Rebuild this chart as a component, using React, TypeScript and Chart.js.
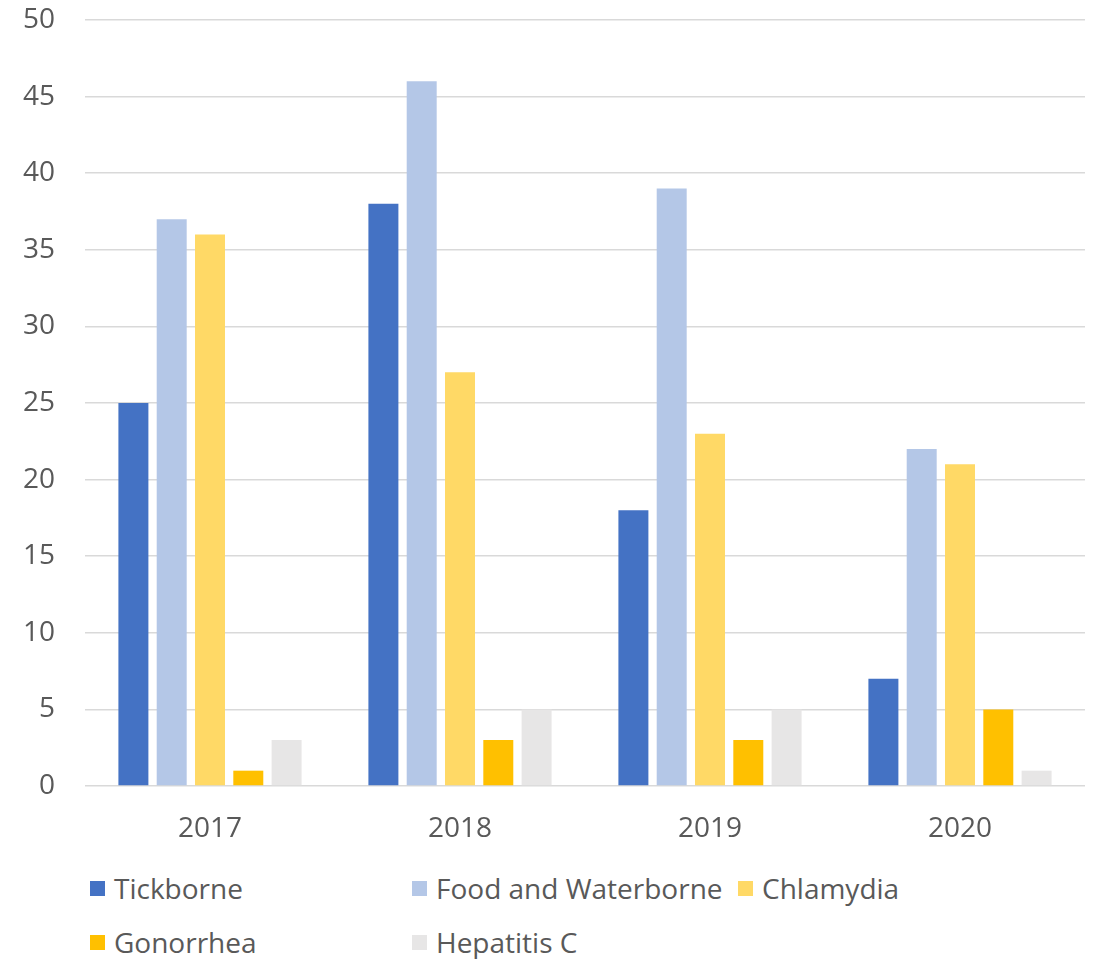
import React, { useEffect, useRef } from "react";
import { Chart, registerables } from "chart.js";

Chart.register(...registerables);

const categories = ["2017", "2018", "2019", "2020"];
const seriesNames = ["Tickborne", "Food and Waterborne", "Chlamydia", "Gonorrhea", "Hepatitis C"];
const tickborne = [25, 38, 18, 7];
const foodWaterborne = [37, 46, 39, 22];
const chlamydia = [36, 27, 23, 21];
const gonorrhea = [1, 3, 3, 5];
const hepatitisC = [3, 5, 5, 1];
const colors = ["#4472C4", "#B4C7E7", "#FFD966", "#FFC000", "#E7E6E6"];

const FONT = "'Open Sans', 'DejaVu Sans', sans-serif";

const legendPos = [
  { left: 90, top: 874 },
  { left: 412, top: 874 },
  { left: 738, top: 874 },
  { left: 90, top: 928 },
  { left: 412, top: 928 },
];

export default function App() {
  const ref = useRef<HTMLCanvasElement | null>(null);
  useEffect(() => {
    if (!ref.current) return;
    const values = [tickborne, foodWaterborne, chlamydia, gonorrhea, hepatitisC];
    const chart = new Chart(ref.current, {
      type: "bar",
      data: {
        labels: categories,
        datasets: seriesNames.map((n, i) => ({
          label: n,
          data: values[i],
          backgroundColor: colors[i],
          barPercentage: 0.783,
          categoryPercentage: 0.766,
        })),
      },
      options: {
        responsive: false,
        animation: false,
        maintainAspectRatio: false,
        layout: { padding: { top: 0, right: 11, left: 0, bottom: 0 } },
        plugins: { legend: { display: false }, tooltip: { enabled: false } },
        scales: {
          x: {
            grid: { display: false },
            border: { display: false },
            ticks: { color: "#595959", font: { family: FONT, size: 28 }, padding: 18 },
            afterFit: (s: any) => { s.height = 74; },
          },
          y: {
            min: 0,
            max: 50,
            ticks: { stepSize: 5, color: "#595959", font: { family: FONT, size: 28 }, padding: 30 },
            grid: { color: "#D9D9D9", lineWidth: 1.5, drawTicks: false },
            border: { display: false },
            afterFit: (s: any) => { s.width = 85; s.paddingTop = 20; },
          },
        },
      },
    });
    return () => chart.destroy();
  }, []);

  return (
    <div style={{ position: "absolute", left: 0, top: 0, width: 1096, height: 959, background: "#fff" }}>
      <canvas ref={ref} width={1096} height={860} style={{ position: "absolute", left: 0, top: 0 }} />
      {seriesNames.map((n, i) => (
        <div key={n} style={{ position: "absolute", left: legendPos[i].left, top: legendPos[i].top, display: "flex", alignItems: "center", fontFamily: FONT, fontSize: 28, color: "#595959", whiteSpace: "nowrap", lineHeight: "28px" }}>
          <span style={{ display: "inline-block", width: 15, height: 15, background: colors[i], marginRight: 9 }} />
          <span>{n}</span>
        </div>
      ))}
    </div>
  );
}
